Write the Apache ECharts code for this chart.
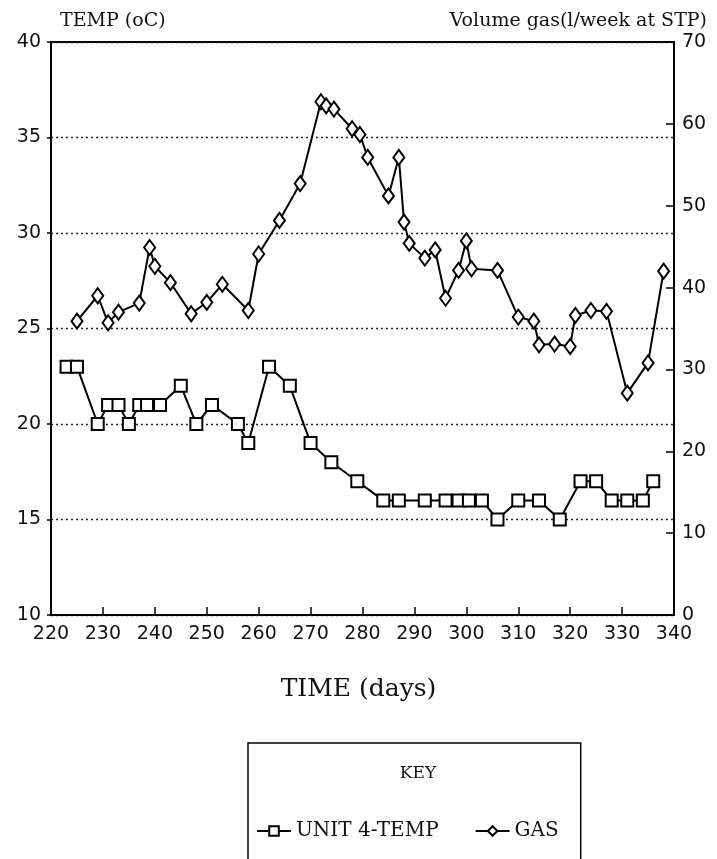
<!DOCTYPE html>
<html><head><meta charset="utf-8">
<script src="https://cdn.jsdelivr.net/npm/echarts@6/dist/echarts.min.js"></script>
<style>html,body{margin:0;padding:0;background:#fff}#c{width:717px;height:859px}</style>
</head><body><div id="c"></div>
<script>
const tempDays = [223, 225, 229, 231, 233, 235, 237, 238.5, 241, 245, 248, 251, 256, 258, 262, 266, 270, 274, 279, 284, 287, 292, 296, 298.5, 300.5, 303, 306, 310, 314, 318, 322, 325, 328, 331, 334, 336];
const tempValues = [23, 23, 20, 21, 21, 20, 21, 21, 21, 22, 20, 21, 20, 19, 23, 22, 19, 18, 17, 16, 16, 16, 16, 16, 16, 16, 15, 16, 16, 15, 17, 17, 16, 16, 16, 17];
const gasDays = [225, 229, 231, 233, 237, 239, 240, 243, 247, 250, 253, 258, 260, 264, 268, 272, 273, 274.5, 278, 279.5, 281, 285, 287, 288, 289, 292, 294, 296, 298.5, 300, 301, 306, 310, 313, 314, 317, 320, 321, 324, 327, 331, 335, 338];
const gasValues = [35.9, 39.0, 35.7, 37.0, 38.1, 44.9, 42.6, 40.6, 36.8, 38.2, 40.4, 37.2, 44.1, 48.2, 52.7, 62.7, 62.2, 61.8, 59.4, 58.7, 55.9, 51.2, 55.9, 48.0, 45.4, 43.6, 44.6, 38.7, 42.1, 45.7, 42.3, 42.1, 36.4, 35.9, 33.0, 33.1, 32.8, 36.6, 37.2, 37.1, 27.1, 30.8, 42.0];
const xRange = [220, 340, 10];
const tempRange = [10, 40, 5];
const gasRange = [0, 70, 10];
const seriesNames = ['UNIT 4-TEMP', 'GAS'];

const chart = echarts.init(document.getElementById('c'));
const serif = 'DejaVu Serif';
const sans = 'DejaVu Sans';
const lab = {color: '#111', fontFamily: sans, fontSize: 19};
chart.setOption({
  animation: false,
  backgroundColor: '#fff',
  grid: {left: 51, right: 43, top: 42, bottom: 244, show: true, borderColor: '#000', borderWidth: 2},
  title: [
    {text: 'TEMP (oC)', left: 55, top: 7, textStyle: {fontFamily: serif, fontWeight: 'normal', fontSize: 19, color: '#111'}},
    {text: 'Volume gas(l/week at STP)', right: 5, top: 7, textStyle: {fontFamily: serif, fontWeight: 'normal', fontSize: 19, color: '#111'}},
    {text: 'TIME (days)', left: 'center', top: 672, textStyle: {fontFamily: serif, fontWeight: 'normal', fontSize: 25, color: '#111'}},
    {text: 'KEY', left: 413, textAlign: 'center', top: 760, textStyle: {fontFamily: serif, fontWeight: 'normal', fontSize: 17, color: '#111'}}
  ],
  legend: {
    left: 248, top: 743,
    padding: [78, 22, 40, 8],
    borderColor: '#000', borderWidth: 1.5,
    itemWidth: 34, itemHeight: 12, itemGap: 36,
    textStyle: {fontFamily: serif, fontSize: 20, color: '#111'},
    data: seriesNames
  },
  xAxis: {
    type: 'value', min: xRange[0], max: xRange[1], interval: xRange[2],
    axisLine: {lineStyle: {color: '#000', width: 2}},
    axisTick: {inside: true, length: 8, lineStyle: {color: '#000', width: 1.5}},
    axisLabel: Object.assign({margin: 10}, lab),
    splitLine: {show: false}
  },
  yAxis: [
    {
      type: 'value', position: 'left', min: tempRange[0], max: tempRange[1], interval: tempRange[2],
      axisLine: {show: true, lineStyle: {color: '#000', width: 2}},
      axisTick: {show: true, inside: false, length: 4, lineStyle: {color: '#000', width: 1.5}},
      axisLabel: Object.assign({margin: 10}, lab),
      splitLine: {show: true, lineStyle: {color: '#222', width: 1.3, type: [2, 3]}}
    },
    {
      type: 'value', position: 'right', min: gasRange[0], max: gasRange[1], interval: gasRange[2],
      axisLine: {show: true, lineStyle: {color: '#000', width: 2}},
      axisTick: {show: true, inside: true, length: 8, lineStyle: {color: '#000', width: 1.5}},
      axisLabel: Object.assign({margin: 8}, lab),
      splitLine: {show: false}
    }
  ],
  series: [
    {
      name: seriesNames[0], type: 'line', yAxisIndex: 0,
      data: tempDays.map((d, i) => [d, tempValues[i]]),
      symbol: 'emptyRect', symbolSize: 12,
      lineStyle: {color: '#000', width: 2},
      itemStyle: {color: '#000', borderColor: '#000', borderWidth: 2}
    },
    {
      name: seriesNames[1], type: 'line', yAxisIndex: 1,
      data: gasDays.map((d, i) => [d, gasValues[i]]),
      symbol: 'emptyDiamond', symbolSize: [11, 15],
      lineStyle: {color: '#000', width: 2},
      itemStyle: {color: '#000', borderColor: '#000', borderWidth: 2}
    }
  ]
});
</script>
</body></html>
